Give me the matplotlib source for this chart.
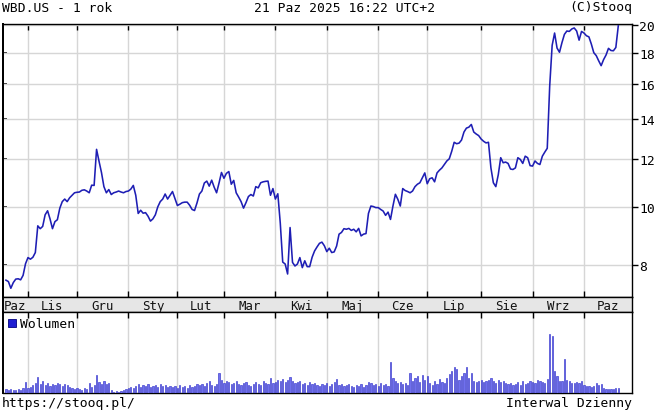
import matplotlib
matplotlib.use("Agg")
import matplotlib.pyplot as plt
from matplotlib.ticker import FixedLocator, FixedFormatter, NullLocator
from matplotlib.patches import Patch

# ---- data (trading-day index 0 = 21 Oct 2024) ----
price = [
    7.56, 7.52, 7.33, 7.49, 7.59, 7.60, 7.57, 7.70, 8.05, 8.24,
    8.19, 8.25, 8.40, 9.30, 9.20, 9.28, 9.70, 9.85, 9.55, 9.20,
    9.45, 9.52, 9.95, 10.20, 10.30, 10.20, 10.35, 10.45, 10.55, 10.57,
    10.58, 10.65, 10.67, 10.62, 10.55, 10.86, 10.85, 12.45, 11.90, 11.40,
    10.80, 10.55, 10.68, 10.48, 10.55, 10.58, 10.62, 10.58, 10.55, 10.60,
    10.62, 10.70, 10.85, 10.45, 9.75, 9.87, 9.76, 9.78, 9.65, 9.47,
    9.55, 9.70, 10.00, 10.20, 10.30, 10.50, 10.30, 10.45, 10.60, 10.32,
    10.05, 10.10, 10.16, 10.18, 10.18, 10.06, 9.90, 9.86, 10.15, 10.50,
    10.62, 10.95, 11.03, 10.82, 11.07, 10.78, 10.55, 10.95, 11.40, 11.15,
    11.36, 11.44, 10.90, 11.06, 10.55, 10.38, 10.20, 9.95, 10.16, 10.40,
    10.48, 10.42, 10.80, 10.75, 10.96, 11.00, 11.02, 11.03, 10.45, 10.72,
    10.30, 10.51, 9.40, 8.10, 8.04, 7.74, 9.24, 8.09, 7.98, 8.04,
    8.24, 7.93, 8.14, 7.96, 7.96, 8.25, 8.45, 8.58, 8.70, 8.74,
    8.62, 8.43, 8.54, 8.40, 8.42, 8.61, 9.01, 9.07, 9.20, 9.18,
    9.21, 9.14, 9.18, 9.09, 9.21, 8.95, 9.01, 9.03, 9.75, 10.03,
    10.01, 9.97, 9.97, 9.90, 9.84, 9.68, 9.80, 9.53, 10.03, 10.49,
    10.29, 10.03, 10.72, 10.64, 10.60, 10.55, 10.62, 10.80, 10.90, 10.96,
    11.17, 11.38, 10.92, 11.13, 11.17, 11.00, 11.38, 11.50, 11.60, 11.75,
    11.91, 12.01, 12.36, 12.79, 12.72, 12.75, 12.90, 13.30, 13.50, 13.55,
    13.69, 13.30, 13.20, 13.12, 12.95, 12.84, 12.76, 12.79, 11.60, 10.96,
    10.80, 11.30, 12.06, 11.83, 11.86, 11.80, 11.55, 11.53, 11.60, 12.06,
    11.98, 11.80, 12.13, 12.06, 11.70, 11.68, 11.91, 11.80, 11.75, 12.13,
    12.32, 12.50, 15.85, 18.51, 19.40, 18.32, 18.03, 18.70, 19.30, 19.55,
    19.52, 19.70, 19.78, 19.55, 18.88, 19.52, 19.40, 19.20, 19.12, 18.60,
    18.00, 17.80, 17.45, 17.13, 17.53, 17.84, 18.30, 18.15, 18.13, 18.36,
    19.94,
]

volume_mln = [
    16, 12, 16, 12, 12, 16, 12, 20, 44, 20,
    24, 32, 40, 64, 36, 48, 32, 40, 28, 36,
    32, 40, 36, 28, 36, 32, 24, 20, 16, 20,
    16, 12, 20, 16, 40, 24, 32, 72, 44, 36,
    48, 36, 40, 12, 4, 8, 4, 8, 12, 16,
    20, 24, 20, 28, 36, 24, 32, 28, 36, 24,
    28, 32, 24, 36, 28, 32, 24, 28, 24, 28,
    20, 32, 24, 28, 20, 32, 24, 28, 36, 32,
    36, 28, 40, 48, 32, 28, 36, 80, 52, 40,
    48, 44, 36, 40, 48, 36, 32, 40, 44, 32,
    28, 36, 44, 36, 32, 48, 40, 36, 60, 40,
    44, 52, 48, 56, 44, 52, 64, 48, 40, 44,
    48, 36, 40, 32, 44, 36, 40, 32, 28, 36,
    32, 40, 28, 36, 44, 56, 32, 36, 28, 32,
    36, 28, 24, 32, 28, 36, 24, 32, 44, 40,
    32, 36, 28, 40, 32, 36, 28, 124, 60, 48,
    40, 44, 36, 40, 32, 80, 48, 60, 68, 44,
    72, 52, 68, 40, 32, 48, 36, 56, 44, 40,
    60, 76, 88, 104, 96, 52, 68, 80, 104, 60,
    80, 48, 44, 48, 52, 44, 48, 52, 60, 48,
    40, 52, 44, 48, 40, 36, 40, 32, 36, 44,
    32, 48, 36, 40, 48, 44, 40, 52, 48, 44,
    40, 56, 236, 228, 88, 68, 48, 48, 136, 52,
    48, 40, 40, 44, 40, 48, 32, 28, 28, 24,
    28, 40, 32, 36, 20, 16, 16, 16, 16, 20,
    20,
]

month_labels = ["Paz", "Lis", "Gru", "Sty", "Lut", "Mar", "Kwi",
                "Maj", "Cze", "Lip", "Sie", "Wrz", "Paz"]
month_starts = [9, 29, 50, 70, 89, 110, 131, 152, 172, 194, 215, 236]
price_ticks = [8, 10, 12, 14, 16, 18, 20]
price_tick_labels = ["8", "10", "12", "14", "16", "18", "20"]

title_left = "WBD.US - 1 rok"
title_mid = "21 Paz 2025 16:22 UTC+2"
title_right = "(C)Stooq"
footer_left = "https://stooq.pl/"
footer_right = "Interwal Dzienny"
legend_label = "Wolumen"

# ---- styling ----
W, H = 654, 414
FONT = "DejaVu Sans Mono"
FS = 9.4
FS_MONTH = 8.9
LINE_C = "#1e1eb4"
GRID_C = "#d6d6d6"
XLIM = (-1.2, 255.6)
YLIM = (7.09, 20.08)

plt.rcParams["font.family"] = [FONT, "DejaVu Sans"]

fig = plt.figure(figsize=(W / 100, H / 100), dpi=100)
fig.patch.set_facecolor("white")


def ax_at(x0, y0, x1, y1):
    return fig.add_axes([x0 / W, 1 - y1 / H, (x1 - x0) / W, (y1 - y0) / H])


ax = ax_at(3, 25, 632, 298)
band = ax_at(3, 298, 632, 313)
vax = ax_at(3, 313, 632, 394)

idx = list(range(len(price)))

# ---- price panel ----
ax.plot(idx, price, color=LINE_C, lw=1.15, zorder=3)
ax.set_yscale("log")
ax.set_xlim(*XLIM)
ax.set_ylim(*YLIM)
ax.yaxis.set_major_locator(FixedLocator(price_ticks))
ax.yaxis.set_major_formatter(FixedFormatter(price_tick_labels))
ax.yaxis.set_minor_locator(NullLocator())
ax.xaxis.set_major_locator(FixedLocator(month_starts))
ax.xaxis.set_minor_locator(NullLocator())
ax.grid(True, which="major", color=GRID_C, lw=1.0, zorder=0)
ax.tick_params(axis="y", left=False, right=True, labelleft=False,
               labelright=True, direction="out", length=4, width=1,
               labelsize=FS, pad=1.0)
ax.tick_params(axis="x", top=True, bottom=True, labelbottom=False,
               direction="in", length=4, width=1)
sec = ax.secondary_yaxis("left")
sec.yaxis.set_major_locator(FixedLocator(price_ticks))
sec.yaxis.set_minor_locator(NullLocator())
sec.tick_params(axis="y", direction="in", length=3, width=1.2, labelleft=False)
sec.spines["left"].set_linewidth(1.4)
for s in ax.spines.values():
    s.set_linewidth(1.0)
ax.spines["left"].set_linewidth(1.4)

# ---- month band ----
band.set_facecolor("#e6e6e6")
band.set_xlim(*XLIM)
band.set_ylim(0, 1)
band.set_xticks([])
band.set_yticks([])
for s in band.spines.values():
    s.set_linewidth(1.0)
band.spines["left"].set_linewidth(1.4)
bounds = [XLIM[0]] + month_starts + [XLIM[1]]
for lab, a, b in zip(month_labels, bounds[:-1], bounds[1:]):
    band.text((a + b) / 2, 0.42, lab, ha="center", va="center",
              fontsize=FS_MONTH, color="#111111")

# ---- volume panel ----
vax.bar(idx, volume_mln, width=0.5, color="#7070ee", edgecolor="#3434cc",
        linewidth=0.45, zorder=3)
vax.set_xlim(*XLIM)
vax.set_ylim(0, 324)
vax.xaxis.set_major_locator(FixedLocator(month_starts))
vax.grid(True, axis="x", color=GRID_C, lw=1.0, zorder=0)
vax.set_yticks([])
vax.tick_params(axis="x", top=True, bottom=False, labelbottom=False,
                direction="in", length=4, width=1)
for s in vax.spines.values():
    s.set_linewidth(1.0)
vax.spines["left"].set_linewidth(1.4)
vax.legend(handles=[Patch(facecolor="#1e1ed2", edgecolor="#000080", lw=0.6)],
           labels=[legend_label], loc="upper left", bbox_to_anchor=(0, 1),
           frameon=False, handlelength=0.6, handleheight=0.55,
           handletextpad=0.3, borderaxespad=0.0, borderpad=0.4,
           fontsize=FS)

# ---- header / footer ----
fig.text(2 / W, 1 - 8 / H, title_left, ha="left", va="center", fontsize=FS)
fig.text(345 / W, 1 - 8 / H, title_mid, ha="center", va="center", fontsize=FS)
fig.text(632 / W, 1 - 8 / H, title_right, ha="right", va="center", fontsize=FS)
fig.text(2 / W, 1 - 404 / H, footer_left, ha="left", va="center", fontsize=FS)
fig.text(632 / W, 1 - 404 / H, footer_right, ha="right", va="center", fontsize=FS)

fig.savefig("out.png", dpi=100, facecolor="white")
